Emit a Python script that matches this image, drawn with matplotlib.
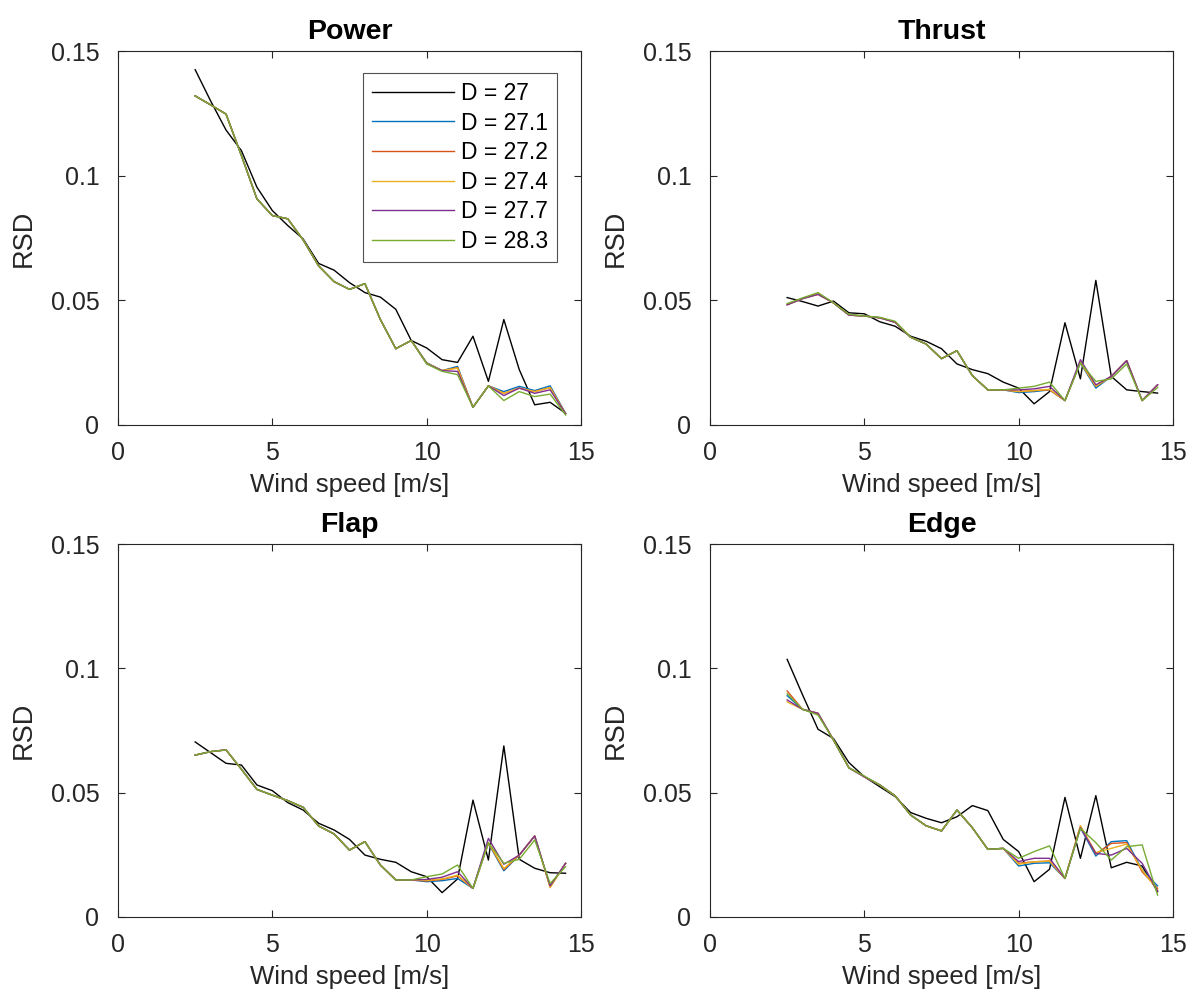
import matplotlib
matplotlib.use("Agg")
import matplotlib.pyplot as plt

plt.rcParams['font.family'] = ['Liberation Sans', 'DejaVu Sans']

wind_speed = [2.5, 3.0, 3.5, 4.0, 4.5, 5.0, 5.5, 6.0, 6.5, 7.0, 7.5, 8.0, 8.5,
              9.0, 9.5, 10.0, 10.5, 11.0, 11.5, 12.0, 12.5, 13.0, 13.5, 14.0, 14.5]

labels = ["D = 27", "D = 27.1", "D = 27.2", "D = 27.4", "D = 27.7", "D = 28.3"]
colors = ["#000000", "#0072BD", "#D95319", "#EDB120", "#7E2F8E", "#77AC30"]

# ---- Power ----
power_27 = [0.1425, 0.130, 0.1183, 0.110, 0.0954, 0.086, 0.080, 0.0746, 0.0648, 0.0621, 0.0571, 0.0531, 0.0513,
            0.0464, 0.0339, 0.0309, 0.0262, 0.0251, 0.0356, 0.0175, 0.0423, 0.0222, 0.0081, 0.0091, 0.0047]
power_271 = [0.132, 0.1284, 0.1247, 0.108, 0.0907, 0.084, 0.0827, 0.0742, 0.0638, 0.0575, 0.0544, 0.0567, 0.0423,
             0.0306, 0.0339, 0.0250, 0.0218, 0.0235, 0.0071, 0.0157, 0.0134, 0.0155, 0.0138, 0.0157, 0.0047]
power_272 = [0.132, 0.1284, 0.1247, 0.108, 0.0907, 0.084, 0.0827, 0.0742, 0.0638, 0.0575, 0.0544, 0.0567, 0.0423,
             0.0306, 0.0339, 0.0248, 0.0218, 0.0230, 0.0071, 0.0157, 0.0127, 0.0148, 0.0134, 0.0150, 0.0045]
power_274 = [0.132, 0.1284, 0.1247, 0.108, 0.0907, 0.084, 0.0827, 0.0742, 0.0638, 0.0575, 0.0544, 0.0567, 0.0423,
             0.0306, 0.0339, 0.0248, 0.0218, 0.0228, 0.0071, 0.0157, 0.0127, 0.0148, 0.0134, 0.0150, 0.0045]
power_277 = [0.132, 0.1284, 0.1247, 0.108, 0.0907, 0.084, 0.0827, 0.0742, 0.0638, 0.0575, 0.0544, 0.0567, 0.0423,
             0.0306, 0.0339, 0.0246, 0.0218, 0.0215, 0.0071, 0.0157, 0.0118, 0.0148, 0.0127, 0.0141, 0.0045]
power_283 = [0.132, 0.1284, 0.1247, 0.108, 0.0907, 0.084, 0.0827, 0.0742, 0.0638, 0.0575, 0.0544, 0.0567, 0.0423,
             0.0306, 0.0339, 0.0245, 0.0215, 0.0202, 0.0071, 0.0157, 0.0098, 0.0134, 0.0114, 0.0124, 0.0040]

# ---- Thrust ----
thrust_27 = [0.0511, 0.0495, 0.0477, 0.0497, 0.0450, 0.0446, 0.0414, 0.0396, 0.0356, 0.0336, 0.0306, 0.0245, 0.0222,
             0.0206, 0.0172, 0.0148, 0.0085, 0.0134, 0.0410, 0.0185, 0.0580, 0.0195, 0.0141, 0.0134, 0.0128]
thrust_271 = [0.0484, 0.0507, 0.0526, 0.0490, 0.0441, 0.0437, 0.0430, 0.0412, 0.0352, 0.0325, 0.0266, 0.0298, 0.0198,
              0.0141, 0.0141, 0.0130, 0.0134, 0.0141, 0.0098, 0.0249, 0.0148, 0.0195, 0.0258, 0.0098, 0.0161]
thrust_272 = [0.0482, 0.0507, 0.0524, 0.0490, 0.0441, 0.0437, 0.0430, 0.0412, 0.0352, 0.0325, 0.0266, 0.0298, 0.0198,
              0.0141, 0.0141, 0.0134, 0.0138, 0.0141, 0.0098, 0.0252, 0.0155, 0.0195, 0.0258, 0.0098, 0.0161]
thrust_274 = [0.0484, 0.0507, 0.0526, 0.0490, 0.0441, 0.0437, 0.0430, 0.0412, 0.0352, 0.0325, 0.0266, 0.0298, 0.0198,
              0.0141, 0.0141, 0.0134, 0.0138, 0.0143, 0.0098, 0.0252, 0.0155, 0.0195, 0.0258, 0.0098, 0.0161]
thrust_277 = [0.0482, 0.0507, 0.0524, 0.0490, 0.0441, 0.0437, 0.0430, 0.0412, 0.0352, 0.0325, 0.0266, 0.0298, 0.0198,
              0.0141, 0.0141, 0.0141, 0.0145, 0.0155, 0.0098, 0.0262, 0.0161, 0.0195, 0.0258, 0.0098, 0.0161]
thrust_283 = [0.0487, 0.0510, 0.0531, 0.0490, 0.0444, 0.0437, 0.0432, 0.0416, 0.0352, 0.0325, 0.0266, 0.0298, 0.0198,
              0.0141, 0.0141, 0.0148, 0.0155, 0.0172, 0.0098, 0.0249, 0.0175, 0.0185, 0.0245, 0.0098, 0.0150]

# ---- Flap ----
flap_27 = [0.0704, 0.0661, 0.0618, 0.0611, 0.0531, 0.0508, 0.0460, 0.0430, 0.0377, 0.0350, 0.0312, 0.0249, 0.0232,
           0.0220, 0.0182, 0.0162, 0.0098, 0.0153, 0.0470, 0.0229, 0.0688, 0.0232, 0.0196, 0.0178, 0.0176]
flap_271 = [0.0651, 0.0665, 0.0672, 0.0594, 0.0513, 0.0490, 0.0468, 0.0441, 0.0366, 0.0334, 0.0269, 0.0303, 0.0209,
            0.0149, 0.0149, 0.0142, 0.0146, 0.0155, 0.0115, 0.0296, 0.0186, 0.0249, 0.0326, 0.0122, 0.0216]
flap_272 = [0.0651, 0.0665, 0.0672, 0.0594, 0.0513, 0.0490, 0.0468, 0.0441, 0.0366, 0.0334, 0.0269, 0.0303, 0.0209,
            0.0149, 0.0149, 0.0145, 0.0151, 0.0165, 0.0115, 0.0299, 0.0191, 0.0249, 0.0326, 0.0122, 0.0216]
flap_274 = [0.0651, 0.0665, 0.0672, 0.0594, 0.0513, 0.0490, 0.0468, 0.0441, 0.0366, 0.0334, 0.0269, 0.0303, 0.0209,
            0.0149, 0.0149, 0.0147, 0.0153, 0.0168, 0.0115, 0.0299, 0.0195, 0.0249, 0.0326, 0.0118, 0.0216]
flap_277 = [0.0651, 0.0665, 0.0672, 0.0594, 0.0513, 0.0490, 0.0468, 0.0441, 0.0366, 0.0334, 0.0269, 0.0303, 0.0209,
            0.0149, 0.0149, 0.0151, 0.0160, 0.0182, 0.0115, 0.0316, 0.0212, 0.0249, 0.0326, 0.0125, 0.0216]
flap_283 = [0.0651, 0.0665, 0.0672, 0.0594, 0.0513, 0.0490, 0.0468, 0.0441, 0.0366, 0.0334, 0.0269, 0.0303, 0.0209,
            0.0149, 0.0149, 0.0162, 0.0173, 0.0209, 0.0115, 0.0299, 0.0216, 0.0232, 0.0310, 0.0135, 0.0202]

# ---- Edge ----
edge_27 = [0.1036, 0.0893, 0.0755, 0.0718, 0.0621, 0.0564, 0.0524, 0.0484, 0.0420, 0.0397, 0.0379, 0.0403, 0.0448,
           0.0428, 0.0312, 0.0263, 0.0142, 0.0192, 0.0481, 0.0236, 0.0488, 0.0198, 0.0220, 0.0205, 0.0102]
edge_271 = [0.0890, 0.0835, 0.0819, 0.0712, 0.0600, 0.0564, 0.0531, 0.0487, 0.0410, 0.0367, 0.0346, 0.0430, 0.0359,
            0.0272, 0.0276, 0.0205, 0.0216, 0.0218, 0.0155, 0.0359, 0.0245, 0.0303, 0.0307, 0.0189, 0.0125]
edge_272 = [0.0909, 0.0835, 0.0819, 0.0712, 0.0600, 0.0564, 0.0531, 0.0487, 0.0410, 0.0367, 0.0346, 0.0430, 0.0359,
            0.0272, 0.0276, 0.0216, 0.0222, 0.0225, 0.0155, 0.0366, 0.0253, 0.0296, 0.0299, 0.0182, 0.0115]
edge_274 = [0.0865, 0.0835, 0.0819, 0.0712, 0.0600, 0.0564, 0.0531, 0.0487, 0.0410, 0.0367, 0.0346, 0.0430, 0.0359,
            0.0272, 0.0276, 0.0212, 0.0222, 0.0225, 0.0155, 0.0366, 0.0259, 0.0276, 0.0293, 0.0189, 0.0110]
edge_277 = [0.0873, 0.0835, 0.0819, 0.0712, 0.0600, 0.0564, 0.0531, 0.0487, 0.0410, 0.0367, 0.0346, 0.0430, 0.0359,
            0.0272, 0.0276, 0.0223, 0.0236, 0.0236, 0.0155, 0.0359, 0.0256, 0.0249, 0.0276, 0.0216, 0.0105]
edge_283 = [0.0898, 0.0835, 0.0812, 0.0712, 0.0600, 0.0567, 0.0531, 0.0487, 0.0410, 0.0367, 0.0346, 0.0430, 0.0359,
            0.0272, 0.0276, 0.0236, 0.0263, 0.0286, 0.0155, 0.0356, 0.0299, 0.0229, 0.0283, 0.0290, 0.0088]

panels = [
    ("Power", [power_27, power_271, power_272, power_274, power_277, power_283]),
    ("Thrust", [thrust_27, thrust_271, thrust_272, thrust_274, thrust_277, thrust_283]),
    ("Flap", [flap_27, flap_271, flap_272, flap_274, flap_277, flap_283]),
    ("Edge", [edge_27, edge_271, edge_272, edge_274, edge_277, edge_283]),
]

W, H = 1186, 992
fig = plt.figure(figsize=(W / 100, H / 100), dpi=100)

# axes boxes in pixels: left, top, right, bottom
boxes = [(118, 51, 581, 425), (710, 51, 1173, 425),
         (118, 544, 581, 917), (710, 544, 1173, 917)]

axcol = "#262626"
for (title, series), (l, t, r, b) in zip(panels, boxes):
    ax = fig.add_axes([l / W, 1 - b / H, (r - l) / W, (b - t) / H])
    for ys, c, lab in zip(series, colors, labels):
        ax.plot(wind_speed, ys, color=c, lw=1.0, label=lab)
    ax.set_xlim(0, 15)
    ax.set_ylim(0, 0.15)
    ax.set_xticks([0, 5, 10, 15])
    ax.set_xticklabels(["0", "5", "10", "15"])
    ax.set_yticks([0, 0.05, 0.1, 0.15])
    ax.set_yticklabels(["0", "0.05", "0.1", "0.15"])
    ax.tick_params(direction="in", length=5, width=0.8, top=True, right=True,
                   labelsize=18, colors=axcol)
    ax.tick_params(axis="x", pad=11.5)
    ax.tick_params(axis="y", pad=13.5)
    for sp in ax.spines.values():
        sp.set_color(axcol)
        sp.set_linewidth(0.8)
    ax.set_title(title, fontsize=20.5, fontweight="bold", pad=9)
    ax.set_xlabel("Wind speed [m/s]", fontsize=18.5, color=axcol, labelpad=6)
    ax.set_ylabel("RSD", fontsize=19.5, color=axcol, labelpad=10)
    if title == "Power":
        leg = ax.legend(loc="upper center", bbox_to_anchor=(0.738, 0.942),
                        borderaxespad=0, fontsize=16.5, handlelength=3.58,
                        handletextpad=0.3, labelspacing=0.29, fancybox=False,
                        borderpad=0.4)
        leg.get_frame().set_edgecolor(axcol)
        leg.get_frame().set_linewidth(0.8)

fig.savefig("out.png", dpi=100)
